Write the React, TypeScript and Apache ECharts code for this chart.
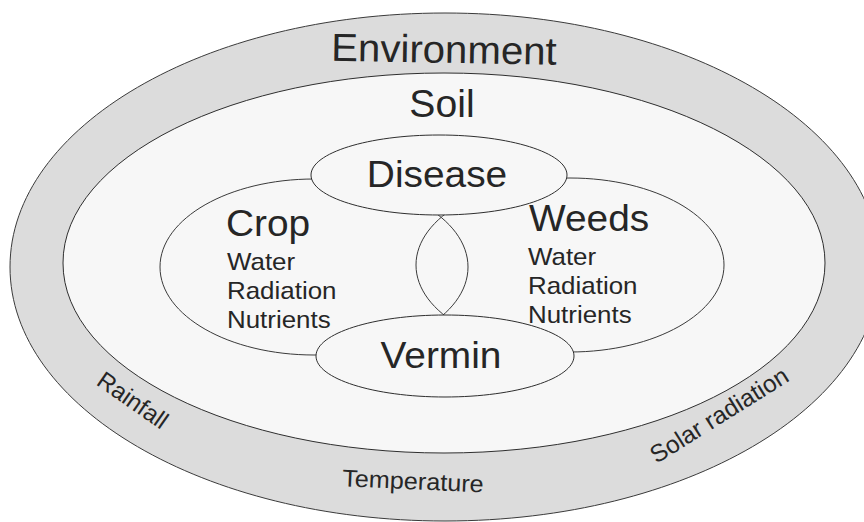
import React, { useEffect, useRef } from "react";
import * as echarts from "echarts";

// Diagram content
const ringLabels = ["Environment", "Soil"];
const nodeLabels = ["Disease", "Vermin", "Crop", "Weeds"];
const resourceLabels = ["Water", "Radiation", "Nutrients"];
const climateLabels = ["Rainfall", "Temperature", "Solar radiation"];

const FONT = "Liberation Sans, Arial, Helvetica, sans-serif";
const TXT = "#262626";
const LINE = "#2e2e2e";

export default function App() {
  const ref = useRef<HTMLDivElement>(null);
  useEffect(() => {
    if (!ref.current) return;
    const chart = echarts.init(ref.current, undefined, { renderer: "svg" });
    const ell = (cx: number, cy: number, rx: number, ry: number, fill: string, stroke: string, lw = 1) => ({
      type: "ellipse",
      shape: { cx, cy, rx, ry },
      style: { fill, stroke, lineWidth: lw },
    });
    // y is the vertical centre of the capital letters
    const txt = (text: string, x: number, y: number, size: number, align = "center", rot = 0, sx = 1) => ({
      type: "text",
      x,
      y,
      rotation: rot,
      scaleX: sx,
      style: {
        text,
        x: 0,
        y: 0,
        font: `${size}px ${FONT}`,
        fill: TXT,
        textAlign: align,
        textVerticalAlign: "middle",
      },
    });
    const deg = Math.PI / 180;
    const elements: any[] = [
      ell(445, 267, 435, 254, "#dcdcdc", "#3a3a3a", 1),
      ell(444, 263, 381, 190, "#f7f7f7", LINE, 1),
      ell(314, 267, 154, 88, "none", "#3a3a3a", 1),
      ell(570, 265, 154, 87, "none", "#3a3a3a", 1),
      ell(439, 175, 128, 40, "#f7f7f7", LINE, 1),
      ell(445, 356, 129, 41, "#f7f7f7", LINE, 1),
      txt(ringLabels[0], 444, 49, 39, "center", -1 * deg, 1.03),
      txt(ringLabels[1], 442, 104, 38, "center", 0, 1.03),
      txt(nodeLabels[0], 437, 174, 37, "center", 0, 1.05),
      txt(nodeLabels[1], 441, 355, 37, "center", 0, 1.05),
      txt(nodeLabels[2], 226, 223, 37, "left", 0, 1.05),
      txt(nodeLabels[3], 529, 218, 37, "left", 0, 1.05),
      ...resourceLabels.map((t, i) => txt(t, 227, 261.5 + i * 29, 24, "left", 0, 1.08)),
      ...resourceLabels.map((t, i) => txt(t, 528, 256.5 + i * 29, 24, "left", 0, 1.08)),
      txt(climateLabels[0], 133, 400, 24, "center", -35 * deg),
      txt(climateLabels[1], 413, 481, 24, "center", -2.5 * deg, 1.05),
      txt(climateLabels[2], 719, 415, 24.5, "center", 32 * deg),
    ];
    chart.setOption({
      animation: false,
      backgroundColor: "#ffffff",
      graphic: { elements },
    });
    return () => chart.dispose();
  }, []);
  return (
    <div
      ref={ref}
      style={{ position: "absolute", left: 0, top: 0, width: 864, height: 522 }}
    />
  );
}
